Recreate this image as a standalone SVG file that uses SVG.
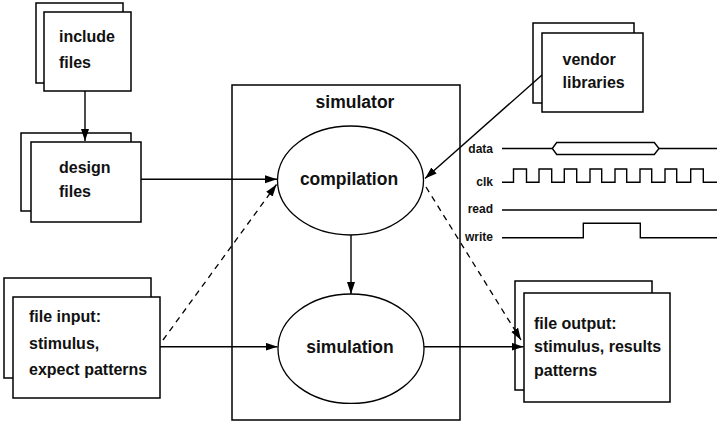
<svg xmlns="http://www.w3.org/2000/svg" width="718" height="430" viewBox="0 0 718 430">
<defs>
<marker id="ah" markerUnits="userSpaceOnUse" markerWidth="13" markerHeight="9" refX="12" refY="4" orient="auto">
<path d="M0,0 L12,4 L0,8 z" fill="#000"/>
</marker>
<style>
.box{fill:#fff;stroke:#000;stroke-width:1.5}
.el{fill:#fff;stroke:#000;stroke-width:1.3}
.t{font-family:"Liberation Sans",Arial,sans-serif;font-weight:bold;font-size:16px;fill:#111}
.tb{font-family:"Liberation Sans",Arial,sans-serif;font-weight:bold;font-size:17.5px;fill:#111}
.ts{font-family:"Liberation Sans",Arial,sans-serif;font-weight:bold;font-size:12px;fill:#111;text-anchor:end}
.c{fill:none;stroke:#000;stroke-width:1.4}
.d{fill:none;stroke:#000;stroke-width:1.3;stroke-dasharray:6 5}
.w{fill:none;stroke:#000;stroke-width:1.4}
</style>
</defs>
<rect width="718" height="430" fill="#fff"/>

<g id="simulator">
<rect class="box" x="232" y="85" width="228" height="335"/>
<text class="tb" x="355" y="108" text-anchor="middle">simulator</text>
</g>

<g id="include-files">
<rect class="box" x="36" y="3" width="87" height="80"/>
<rect class="box" x="44" y="12" width="87" height="79"/>
<text class="t" x="59" y="42">include</text>
<text class="t" x="59" y="68">files</text>
</g>

<g id="design-files">
<rect class="box" x="21" y="133" width="110" height="78"/>
<rect class="box" x="31" y="142" width="110" height="80"/>
<text class="t" x="59" y="173">design</text>
<text class="t" x="59" y="197">files</text>
</g>

<g id="file-input">
<rect class="box" x="4" y="278" width="147" height="100"/>
<rect class="box" x="13" y="297" width="147" height="101"/>
<text class="t" x="29" y="322">file input:</text>
<text class="t" x="29" y="349">stimulus,</text>
<text class="t" x="29" y="375">expect patterns</text>
</g>

<g id="vendor-libraries">
<rect class="box" x="533" y="23" width="101" height="80"/>
<rect class="box" x="542" y="33" width="101" height="79"/>
<text class="t" x="562.5" y="65">vendor</text>
<text class="t" x="562.5" y="88">libraries</text>
</g>

<g id="file-output">
<rect class="box" x="515" y="281" width="137" height="109"/>
<rect class="box" x="524" y="293" width="146" height="109"/>
<text class="t" x="534" y="329">file output:</text>
<text class="t" x="534" y="352">stimulus, results</text>
<text class="t" x="534" y="376">patterns</text>
</g>

<g id="compilation">
<ellipse class="el" cx="350.5" cy="180.5" rx="73" ry="54.5"/>
<text class="tb" x="349" y="185" text-anchor="middle">compilation</text>
</g>

<g id="simulation">
<ellipse class="el" cx="351" cy="348.7" rx="73" ry="54.7"/>
<text class="tb" x="350" y="353" text-anchor="middle">simulation</text>
</g>

<g id="connectors">
<line class="c" x1="85" y1="91" x2="85" y2="141" marker-end="url(#ah)"/>
<line class="c" x1="141" y1="179.3" x2="277" y2="179.3" marker-end="url(#ah)"/>
<line class="d" x1="163" y1="340" x2="276.5" y2="184.5" marker-end="url(#ah)"/>
<line class="c" x1="542" y1="75" x2="425" y2="178.5" marker-end="url(#ah)"/>
<line class="c" x1="351" y1="235" x2="351" y2="294" marker-end="url(#ah)"/>
<line class="c" x1="160" y1="346.7" x2="277.5" y2="346.7" marker-end="url(#ah)"/>
<line class="c" x1="424" y1="346.7" x2="523.5" y2="346.7" marker-end="url(#ah)"/>
<line class="d" x1="426" y1="187" x2="521" y2="340" marker-end="url(#ah)"/>
</g>

<g id="waveforms">
<text class="ts" x="493" y="152.7">data</text>
<text class="ts" x="493" y="185.7">clk</text>
<text class="ts" x="493" y="213.3">read</text>
<text class="ts" x="493" y="241">write</text>
<path class="w" d="M502,148.5 H552.3 M659,148.5 H717"/>
<path class="w" d="M552.3,148.5 L556.7,142.5 H654.3 L659,148.5 L654.3,154.5 H556.7 Z"/>
<path class="w" d="M502,182.3 H513.5 V169 H526.5 V182.3 H539 V169 H551.7 V182.3 H564.3 V169 H576.7 V182.3 H590 V169 H601.7 V182.3 H615 V169 H626.7 V182.3 H640 V169 H651.7 V182.3 H665 V169 H676.7 V182.3 H690.7 V169 H703.3 V182.3 H717"/>
<path class="w" d="M502,210 H717"/>
<path class="w" d="M502,237.7 H583.3 V223.3 H640.3 V237.7 H717"/>
</g>
</svg>
